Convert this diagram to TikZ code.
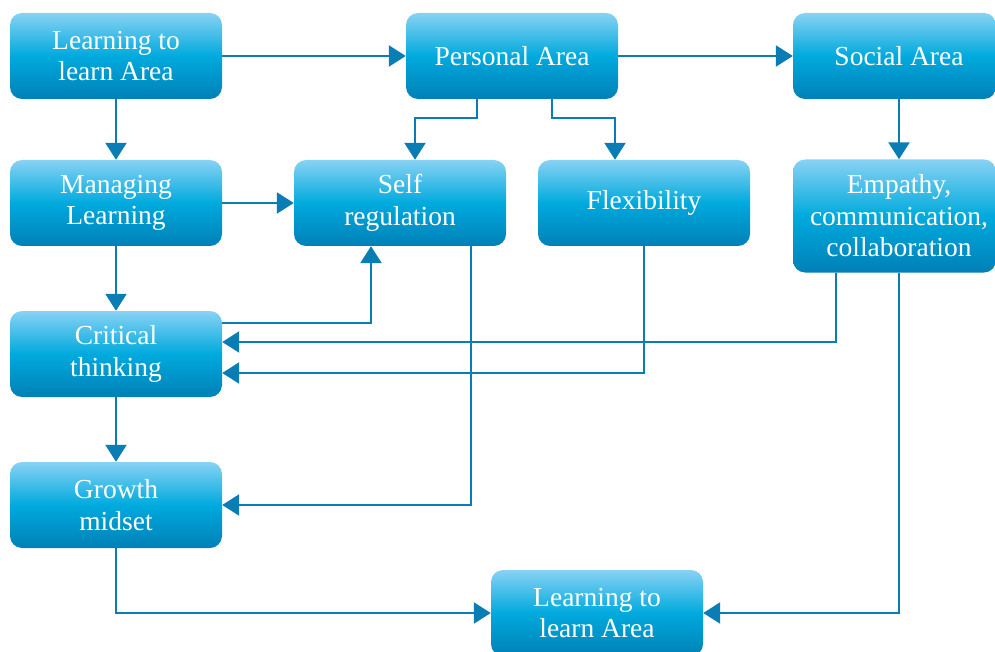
\documentclass[tikz,border=0pt]{standalone}
\usepackage{fontspec}
\setmainfont{Liberation Serif}
\usetikzlibrary{arrows.meta}

\definecolor{boxtop}{HTML}{88D2F4}
\definecolor{boxmid}{HTML}{00AADD}
\definecolor{boxbot}{HTML}{0080B7}
\definecolor{linkblue}{HTML}{0A7DB5}

\tikzset{
    area/.style={rounded corners=12pt, top color=boxtop, bottom color=boxbot, middle color=boxmid,
        minimum width=212pt, minimum height=86pt, inner sep=0pt, align=center, text=white,
        font=\fontsize{27.5}{31.5}\selectfont},
    link/.style={draw=linkblue, line width=2.4pt, -{Triangle[length=17pt,width=21pt]}},
}

\begin{document}
\begin{tikzpicture}[x=1pt,y=-1pt]
            \useasboundingbox (0,0) rectangle (995,652);
            \clip (0,0) rectangle (995,652);
            \begin{scope}
                \node[area, name=learnA] at (116,56) (learnA) {Learning to\\learn Area};
                \node[area, name=personal] at (512,56) (personal) {Personal Area};
                \node[area, name=social, minimum width=203pt] at (894.5,56) (social) {\hspace*{9pt}Social Area};
                \node[area, name=managing] at (116,203) (managing) {Managing\\Learning};
                \node[area, name=selfreg] at (400,203) (selfreg) {Self\\regulation};
                \node[area, name=flex] at (644,203) (flex) {Flexibility};
                \node[area, name=empathy, minimum width=203pt, minimum height=113pt] at (894.5,216) (empathy) {\hspace*{9pt}Empathy,\\\hspace*{9pt}communication,\\\hspace*{9pt}collaboration};
                \node[area, name=critical] at (116,354) (critical) {Critical\\thinking};
                \node[area, name=growth] at (116,505) (growth) {Growth\\midset};
                \node[area, name=learnB] at (597,613) (learnB) {Learning to\\learn Area};

                \draw[link] (learnA) -- (personal);
                \draw[link] (personal) -- (social);
                \draw[link] (learnA) -- (managing);
                \draw[link] ([xshift=4.5pt]social.south) -- ([xshift=4.5pt]empathy.north);
                \draw[link] ([xshift=-35pt]personal.south) -- ++(0,19) -| ([xshift=15pt]selfreg.north);
                \draw[link] ([xshift=40pt]personal.south) -- ++(0,19) -| ([xshift=-29pt]flex.north);
                \draw[link] (managing) -- (selfreg);
                \draw[link] (managing) -- (critical);
                \draw[link] ([yshift=31pt]critical.east) -| ([xshift=-29pt]selfreg.south);
                \draw[link] ([xshift=-58.5pt]empathy.south) |- ([yshift=12pt]critical.east);
                \draw[link] (flex.south) |- ([yshift=-19pt]critical.east);
                \draw[link] (critical) -- (growth);
                \draw[link] ([xshift=71pt]selfreg.south) |- (growth.east);
                \draw[link] (growth.south) |- (learnB.west);
                \draw[link] ([xshift=4.5pt]empathy.south) |- (learnB.east);
            \end{scope}
\end{tikzpicture}
\end{document}
